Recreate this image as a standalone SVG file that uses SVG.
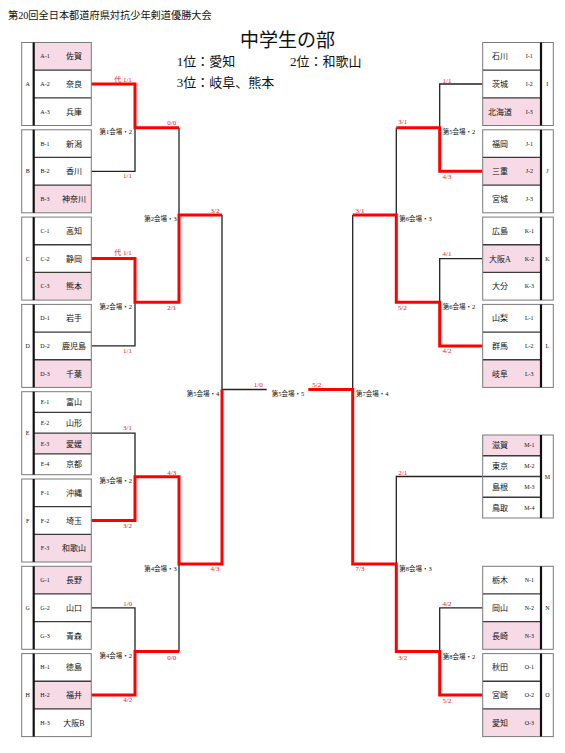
<svg xmlns="http://www.w3.org/2000/svg" width="565" height="753" viewBox="0 0 565 753">
<style>
text{font-family:"Liberation Serif","Noto Sans CJK JP",serif;fill:#111}
.bg{fill:#fff}
.bd{fill:none;stroke:#7a7a7a;stroke-width:1}
.pk{fill:#f6dbe6}
.sep{stroke:#3a3a3a;stroke-width:1.3}
.thk{stroke:#111;stroke-width:2.2}
.nm{font-size:8px;text-anchor:middle}
.lb{font-size:6px;text-anchor:middle}
.gl{font-size:6px;text-anchor:middle}
.sc{font-size:7px;text-anchor:middle;fill:#e8141c}
.mt{font-size:6.5px}
.bl{stroke:#222;stroke-width:1.3;fill:none}
.rd{stroke:#ff0000;stroke-width:3;fill:none}
</style>
<g id="title">
<text x="8" y="18.5" style="font-size:10.2px">第20回全日本都道府県対抗少年剣道優勝大会</text>
<text x="240" y="46.5" style="font-size:19px">中学生の部</text>
<text x="176.7" y="66" style="font-size:13px">1位：愛知</text>
<text x="290" y="66" style="font-size:13px">2位：和歌山</text>
<text x="176.7" y="87.3" style="font-size:13px">3位：岐阜、熊本</text>
</g>
<g id="connectors">
<path class="bl" d="M91.3,171.3H135V127.65"/>
<path class="bl" d="M179,127.65V214.95"/>
<path class="bl" d="M91.3,345.9H135V302.25"/>
<path class="bl" d="M222,214.95V389.5H266.7"/>
<path class="bl" d="M91.3,433.2H135V476.85"/>
<path class="bl" d="M179,564.1V651.45"/>
<path class="bl" d="M91.3,607.8H135V651.45"/>
<path class="bl" d="M482.7,84H439.7V127.65"/>
<path class="bl" d="M396.3,127.65V214.95"/>
<path class="bl" d="M482.7,258.6H439.7V302.25"/>
<path class="bl" d="M352.7,214.95V389.5"/>
<path class="bl" d="M482.7,476.5H396.3V564.1"/>
<path class="bl" d="M482.7,607.8H439.7V651.45"/>
<path class="rd" d="M91.3,84H135V127.65H179"/>
<path class="rd" d="M91.3,258.6H135V302.25H179V214.95H222"/>
<path class="rd" d="M91.3,520.5H135V476.85H179V564.1H222V389.5"/>
<path class="rd" d="M91.3,695.1H135V651.45H179"/>
<path class="rd" d="M482.7,171.3H439.7V127.65H396.3"/>
<path class="rd" d="M482.7,345.9H439.7V302.25H396.3V214.95H352.7"/>
<path class="rd" d="M308.3,389.5H352.7V564.1H396.3V651.45H439.7V695.1H482.7"/>
</g>
<g id="scores">
<text class="sc" x="123" y="81.5">代 1/1</text>
<text class="sc" x="127.5" y="178">1/1</text>
<text class="sc" x="171.7" y="124.5">0/0</text>
<text class="sc" x="123" y="255">代 1/1</text>
<text class="sc" x="127.5" y="353">1/1</text>
<text class="sc" x="171.7" y="309.8">2/1</text>
<text class="sc" x="215" y="212.5">3/2</text>
<text class="sc" x="127.5" y="430">3/1</text>
<text class="sc" x="127.5" y="527.5">3/2</text>
<text class="sc" x="171.7" y="474.8">4/3</text>
<text class="sc" x="215" y="571">4/3</text>
<text class="sc" x="127.8" y="605.8">1/0</text>
<text class="sc" x="127.8" y="701.8">4/2</text>
<text class="sc" x="171.7" y="659.8">0/0</text>
<text class="sc" x="258.3" y="386.8">1/0</text>
<text class="sc" x="316.7" y="386.8">5/2</text>
<text class="sc" x="447" y="82.5">1/1</text>
<text class="sc" x="447" y="178.5">4/3</text>
<text class="sc" x="402.8" y="124">3/1</text>
<text class="sc" x="360" y="212.5">3/1</text>
<text class="sc" x="447" y="255.8">4/1</text>
<text class="sc" x="447" y="353.2">4/2</text>
<text class="sc" x="402.3" y="309.8">5/2</text>
<text class="sc" x="402.7" y="474.8">2/1</text>
<text class="sc" x="360" y="571">7/3</text>
<text class="sc" x="447" y="605.8">4/2</text>
<text class="sc" x="447" y="702.5">5/2</text>
<text class="sc" x="402.7" y="659.8">3/2</text>
</g>
<g id="venues">
<text class="mt" x="132" y="133.5" text-anchor="end">第1会場・2</text>
<text class="mt" x="132" y="309" text-anchor="end">第2会場・2</text>
<text class="mt" x="176.7" y="220.8" text-anchor="end">第2会場・3</text>
<text class="mt" x="132" y="483" text-anchor="end">第3会場・2</text>
<text class="mt" x="132" y="658" text-anchor="end">第4会場・2</text>
<text class="mt" x="176.7" y="571" text-anchor="end">第4会場・3</text>
<text class="mt" x="219.3" y="395.8" text-anchor="end">第5会場・4</text>
<text class="mt" x="271.7" y="395.8">第5会場・5</text>
<text class="mt" x="356" y="395.8">第7会場・4</text>
<text class="mt" x="442.7" y="134">第5会場・2</text>
<text class="mt" x="399.3" y="220.8">第6会場・3</text>
<text class="mt" x="442.7" y="309.2">第6会場・2</text>
<text class="mt" x="399.3" y="571">第8会場・3</text>
<text class="mt" x="442.7" y="658.5">第8会場・2</text>
</g>
<g id="group-A">
<rect class="bg" x="21.7" y="42.5" width="69.6" height="83"/>
<rect class="pk" x="33.7" y="42.5" width="57.6" height="27.67"/>
<line class="sep" x1="33.7" y1="70.17" x2="91.3" y2="70.17"/>
<line class="sep" x1="33.7" y1="97.83" x2="91.3" y2="97.83"/>
<rect class="bd" x="21.7" y="42.5" width="69.6" height="83"/>
<line class="thk" x1="33.7" y1="42.5" x2="33.7" y2="125.5"/>
<text class="gl" x="27.7" y="86">A</text>
<text class="lb" x="45" y="58.3">A-1</text><text class="nm" x="74" y="59.3">佐賀</text>
<text class="lb" x="45" y="86">A-2</text><text class="nm" x="74" y="87">奈良</text>
<text class="lb" x="45" y="113.7">A-3</text><text class="nm" x="74" y="114.7">兵庫</text>
</g>
<g id="group-B">
<rect class="bg" x="21.7" y="129.8" width="69.6" height="83"/>
<rect class="pk" x="33.7" y="185.13" width="57.6" height="27.67"/>
<line class="sep" x1="33.7" y1="157.47" x2="91.3" y2="157.47"/>
<line class="sep" x1="33.7" y1="185.13" x2="91.3" y2="185.13"/>
<rect class="bd" x="21.7" y="129.8" width="69.6" height="83"/>
<line class="thk" x1="33.7" y1="129.8" x2="33.7" y2="212.8"/>
<text class="gl" x="27.7" y="173.3">B</text>
<text class="lb" x="45" y="145.6">B-1</text><text class="nm" x="74" y="146.6">新潟</text>
<text class="lb" x="45" y="173.3">B-2</text><text class="nm" x="74" y="174.3">香川</text>
<text class="lb" x="45" y="201">B-3</text><text class="nm" x="74" y="202">神奈川</text>
</g>
<g id="group-C">
<rect class="bg" x="21.7" y="217.1" width="69.6" height="83"/>
<rect class="pk" x="33.7" y="272.43" width="57.6" height="27.67"/>
<line class="sep" x1="33.7" y1="244.77" x2="91.3" y2="244.77"/>
<line class="sep" x1="33.7" y1="272.43" x2="91.3" y2="272.43"/>
<rect class="bd" x="21.7" y="217.1" width="69.6" height="83"/>
<line class="thk" x1="33.7" y1="217.1" x2="33.7" y2="300.1"/>
<text class="gl" x="27.7" y="260.6">C</text>
<text class="lb" x="45" y="232.9">C-1</text><text class="nm" x="74" y="233.9">高知</text>
<text class="lb" x="45" y="260.6">C-2</text><text class="nm" x="74" y="261.6">静岡</text>
<text class="lb" x="45" y="288.3">C-3</text><text class="nm" x="74" y="289.3">熊本</text>
</g>
<g id="group-D">
<rect class="bg" x="21.7" y="304.4" width="69.6" height="83"/>
<rect class="pk" x="33.7" y="359.73" width="57.6" height="27.67"/>
<line class="sep" x1="33.7" y1="332.07" x2="91.3" y2="332.07"/>
<line class="sep" x1="33.7" y1="359.73" x2="91.3" y2="359.73"/>
<rect class="bd" x="21.7" y="304.4" width="69.6" height="83"/>
<line class="thk" x1="33.7" y1="304.4" x2="33.7" y2="387.4"/>
<text class="gl" x="27.7" y="347.9">D</text>
<text class="lb" x="45" y="320.2">D-1</text><text class="nm" x="74" y="321.2">岩手</text>
<text class="lb" x="45" y="347.9">D-2</text><text class="nm" x="74" y="348.9">鹿児島</text>
<text class="lb" x="45" y="375.6">D-3</text><text class="nm" x="74" y="376.6">千葉</text>
</g>
<g id="group-E">
<rect class="bg" x="21.7" y="391.7" width="69.6" height="83"/>
<rect class="pk" x="33.7" y="433.2" width="57.6" height="20.75"/>
<line class="sep" x1="33.7" y1="412.45" x2="91.3" y2="412.45"/>
<line class="sep" x1="33.7" y1="433.2" x2="91.3" y2="433.2"/>
<line class="sep" x1="33.7" y1="453.95" x2="91.3" y2="453.95"/>
<rect class="bd" x="21.7" y="391.7" width="69.6" height="83"/>
<line class="thk" x1="33.7" y1="391.7" x2="33.7" y2="474.7"/>
<text class="gl" x="27.7" y="435.2">E</text>
<text class="lb" x="45" y="404.1">E-1</text><text class="nm" x="74" y="405.1">富山</text>
<text class="lb" x="45" y="424.8">E-2</text><text class="nm" x="74" y="425.8">山形</text>
<text class="lb" x="45" y="445.6">E-3</text><text class="nm" x="74" y="446.6">愛媛</text>
<text class="lb" x="45" y="466.3">E-4</text><text class="nm" x="74" y="467.3">京都</text>
</g>
<g id="group-F">
<rect class="bg" x="21.7" y="479" width="69.6" height="83"/>
<rect class="pk" x="33.7" y="534.33" width="57.6" height="27.67"/>
<line class="sep" x1="33.7" y1="506.67" x2="91.3" y2="506.67"/>
<line class="sep" x1="33.7" y1="534.33" x2="91.3" y2="534.33"/>
<rect class="bd" x="21.7" y="479" width="69.6" height="83"/>
<line class="thk" x1="33.7" y1="479" x2="33.7" y2="562"/>
<text class="gl" x="27.7" y="522.5">F</text>
<text class="lb" x="45" y="494.8">F-1</text><text class="nm" x="74" y="495.8">沖縄</text>
<text class="lb" x="45" y="522.5">F-2</text><text class="nm" x="74" y="523.5">埼玉</text>
<text class="lb" x="45" y="550.2">F-3</text><text class="nm" x="74" y="551.2">和歌山</text>
</g>
<g id="group-G">
<rect class="bg" x="21.7" y="566.3" width="69.6" height="83"/>
<rect class="pk" x="33.7" y="566.3" width="57.6" height="27.67"/>
<line class="sep" x1="33.7" y1="593.97" x2="91.3" y2="593.97"/>
<line class="sep" x1="33.7" y1="621.63" x2="91.3" y2="621.63"/>
<rect class="bd" x="21.7" y="566.3" width="69.6" height="83"/>
<line class="thk" x1="33.7" y1="566.3" x2="33.7" y2="649.3"/>
<text class="gl" x="27.7" y="609.8">G</text>
<text class="lb" x="45" y="582.1">G-1</text><text class="nm" x="74" y="583.1">長野</text>
<text class="lb" x="45" y="609.8">G-2</text><text class="nm" x="74" y="610.8">山口</text>
<text class="lb" x="45" y="637.5">G-3</text><text class="nm" x="74" y="638.5">青森</text>
</g>
<g id="group-H">
<rect class="bg" x="21.7" y="653.6" width="69.6" height="83"/>
<rect class="pk" x="33.7" y="681.27" width="57.6" height="27.67"/>
<line class="sep" x1="33.7" y1="681.27" x2="91.3" y2="681.27"/>
<line class="sep" x1="33.7" y1="708.93" x2="91.3" y2="708.93"/>
<rect class="bd" x="21.7" y="653.6" width="69.6" height="83"/>
<line class="thk" x1="33.7" y1="653.6" x2="33.7" y2="736.6"/>
<text class="gl" x="27.7" y="697.1">H</text>
<text class="lb" x="45" y="669.4">H-1</text><text class="nm" x="74" y="670.4">徳島</text>
<text class="lb" x="45" y="697.1">H-2</text><text class="nm" x="74" y="698.1">福井</text>
<text class="lb" x="45" y="724.8">H-3</text><text class="nm" x="74" y="725.8">大阪B</text>
</g>
<g id="group-I">
<rect class="bg" x="482.7" y="42.5" width="70.6" height="83"/>
<rect class="pk" x="482.7" y="97.83" width="58.3" height="27.67"/>
<line class="sep" x1="482.7" y1="70.17" x2="541" y2="70.17"/>
<line class="sep" x1="482.7" y1="97.83" x2="541" y2="97.83"/>
<rect class="bd" x="482.7" y="42.5" width="70.6" height="83"/>
<line class="thk" x1="541" y1="42.5" x2="541" y2="125.5"/>
<text class="gl" x="547.3" y="86">I</text>
<text class="nm" x="500" y="59.3">石川</text><text class="lb" x="529.3" y="58.3">I-1</text>
<text class="nm" x="500" y="87">茨城</text><text class="lb" x="529.3" y="86">I-2</text>
<text class="nm" x="500" y="114.7">北海道</text><text class="lb" x="529.3" y="113.7">I-3</text>
</g>
<g id="group-J">
<rect class="bg" x="482.7" y="129.8" width="70.6" height="83"/>
<rect class="pk" x="482.7" y="157.47" width="58.3" height="27.67"/>
<line class="sep" x1="482.7" y1="157.47" x2="541" y2="157.47"/>
<line class="sep" x1="482.7" y1="185.13" x2="541" y2="185.13"/>
<rect class="bd" x="482.7" y="129.8" width="70.6" height="83"/>
<line class="thk" x1="541" y1="129.8" x2="541" y2="212.8"/>
<text class="gl" x="547.3" y="173.3">J</text>
<text class="nm" x="500" y="146.6">福岡</text><text class="lb" x="529.3" y="145.6">J-1</text>
<text class="nm" x="500" y="174.3">三重</text><text class="lb" x="529.3" y="173.3">J-2</text>
<text class="nm" x="500" y="202">宮城</text><text class="lb" x="529.3" y="201">J-3</text>
</g>
<g id="group-K">
<rect class="bg" x="482.7" y="217.1" width="70.6" height="83"/>
<rect class="pk" x="482.7" y="244.77" width="58.3" height="27.67"/>
<line class="sep" x1="482.7" y1="244.77" x2="541" y2="244.77"/>
<line class="sep" x1="482.7" y1="272.43" x2="541" y2="272.43"/>
<rect class="bd" x="482.7" y="217.1" width="70.6" height="83"/>
<line class="thk" x1="541" y1="217.1" x2="541" y2="300.1"/>
<text class="gl" x="547.3" y="260.6">K</text>
<text class="nm" x="500" y="233.9">広島</text><text class="lb" x="529.3" y="232.9">K-1</text>
<text class="nm" x="500" y="261.6">大阪A</text><text class="lb" x="529.3" y="260.6">K-2</text>
<text class="nm" x="500" y="289.3">大分</text><text class="lb" x="529.3" y="288.3">K-3</text>
</g>
<g id="group-L">
<rect class="bg" x="482.7" y="304.4" width="70.6" height="83"/>
<rect class="pk" x="482.7" y="359.73" width="58.3" height="27.67"/>
<line class="sep" x1="482.7" y1="332.07" x2="541" y2="332.07"/>
<line class="sep" x1="482.7" y1="359.73" x2="541" y2="359.73"/>
<rect class="bd" x="482.7" y="304.4" width="70.6" height="83"/>
<line class="thk" x1="541" y1="304.4" x2="541" y2="387.4"/>
<text class="gl" x="547.3" y="347.9">L</text>
<text class="nm" x="500" y="321.2">山梨</text><text class="lb" x="529.3" y="320.2">L-1</text>
<text class="nm" x="500" y="348.9">群馬</text><text class="lb" x="529.3" y="347.9">L-2</text>
<text class="nm" x="500" y="376.6">岐阜</text><text class="lb" x="529.3" y="375.6">L-3</text>
</g>
<g id="group-M">
<rect class="bg" x="482.7" y="435" width="70.6" height="83"/>
<rect class="pk" x="482.7" y="435" width="58.3" height="20.75"/>
<line class="sep" x1="482.7" y1="455.75" x2="541" y2="455.75"/>
<line class="sep" x1="482.7" y1="476.5" x2="541" y2="476.5"/>
<line class="sep" x1="482.7" y1="497.25" x2="541" y2="497.25"/>
<rect class="bd" x="482.7" y="435" width="70.6" height="83"/>
<line class="thk" x1="541" y1="435" x2="541" y2="518"/>
<text class="gl" x="547.3" y="478.5">M</text>
<text class="nm" x="500" y="448.4">滋賀</text><text class="lb" x="529.3" y="447.4">M-1</text>
<text class="nm" x="500" y="469.1">東京</text><text class="lb" x="529.3" y="468.1">M-2</text>
<text class="nm" x="500" y="489.9">島根</text><text class="lb" x="529.3" y="488.9">M-3</text>
<text class="nm" x="500" y="510.6">鳥取</text><text class="lb" x="529.3" y="509.6">M-4</text>
</g>
<g id="group-N">
<rect class="bg" x="482.7" y="566.3" width="70.6" height="83"/>
<rect class="pk" x="482.7" y="621.63" width="58.3" height="27.67"/>
<line class="sep" x1="482.7" y1="593.97" x2="541" y2="593.97"/>
<line class="sep" x1="482.7" y1="621.63" x2="541" y2="621.63"/>
<rect class="bd" x="482.7" y="566.3" width="70.6" height="83"/>
<line class="thk" x1="541" y1="566.3" x2="541" y2="649.3"/>
<text class="gl" x="547.3" y="609.8">N</text>
<text class="nm" x="500" y="583.1">栃木</text><text class="lb" x="529.3" y="582.1">N-1</text>
<text class="nm" x="500" y="610.8">岡山</text><text class="lb" x="529.3" y="609.8">N-2</text>
<text class="nm" x="500" y="638.5">長崎</text><text class="lb" x="529.3" y="637.5">N-3</text>
</g>
<g id="group-O">
<rect class="bg" x="482.7" y="653.6" width="70.6" height="83"/>
<rect class="pk" x="482.7" y="708.93" width="58.3" height="27.67"/>
<line class="sep" x1="482.7" y1="681.27" x2="541" y2="681.27"/>
<line class="sep" x1="482.7" y1="708.93" x2="541" y2="708.93"/>
<rect class="bd" x="482.7" y="653.6" width="70.6" height="83"/>
<line class="thk" x1="541" y1="653.6" x2="541" y2="736.6"/>
<text class="gl" x="547.3" y="697.1">O</text>
<text class="nm" x="500" y="670.4">秋田</text><text class="lb" x="529.3" y="669.4">O-1</text>
<text class="nm" x="500" y="698.1">宮崎</text><text class="lb" x="529.3" y="697.1">O-2</text>
<text class="nm" x="500" y="725.8">愛知</text><text class="lb" x="529.3" y="724.8">O-3</text>
</g>
</svg>
